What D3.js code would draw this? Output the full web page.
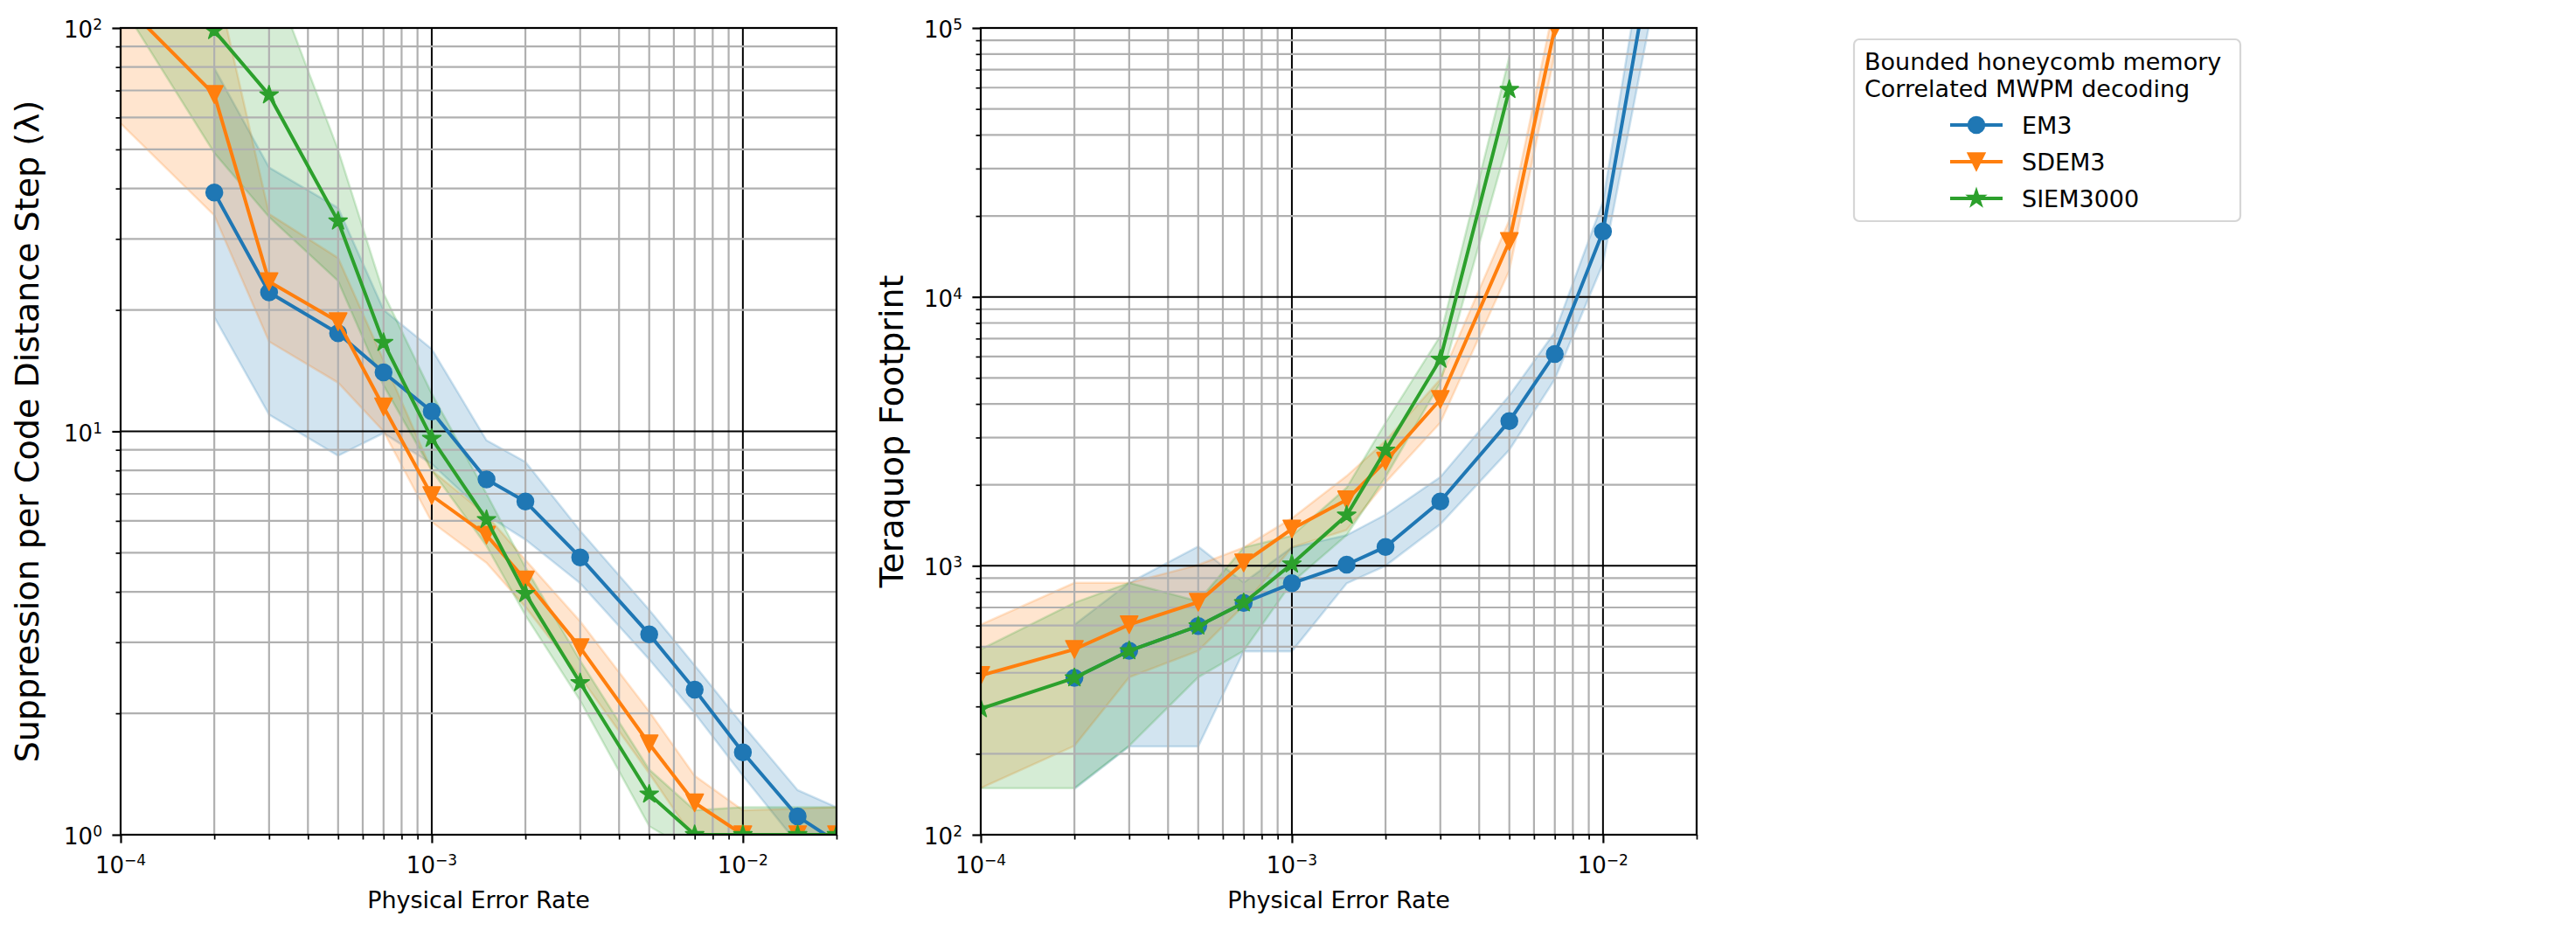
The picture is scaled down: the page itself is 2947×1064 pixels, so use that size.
<!DOCTYPE html>
<html>
<head>
<meta charset="utf-8">
<script src="https://cdnjs.cloudflare.com/ajax/libs/d3/7.8.5/d3.min.js"></script>
<style>
  body { margin: 0; background: #fff; }
  svg { display: block; font-family: "DejaVu Sans", sans-serif; }
</style>
</head>
<body>
<div id="chart"></div>
<script>
// physical error rates (x axis, both panels)
var errorRates = [1e-4, 2e-4, 3e-4, 5e-4, 7e-4, 1e-3, 1.5e-3, 2e-3, 3e-3, 5e-3, 7e-3, 1e-2, 1.5e-2, 2e-2];

var seriesNames = ["EM3", "SDEM3", "SIEM3000"];
var legendTitle = ["Bounded honeycomb memory", "Correlated MWPM decoding"];

// suppression per code distance step (lambda), with low / high band
var lambdaEM3    = [null, 39.1, 22.1, 17.5, 14.0, 11.2, 7.6, 6.7, 4.87, 3.14, 2.29, 1.60, 1.11, 0.96];
var lambdaEM3Lo  = [null, 19.2, 11.0, 8.7, 9.9, 8.3, 6.2, 5.39, 4.2, 2.72, 2.0, 1.40, 0.95, 0.8];
var lambdaEM3Hi  = [null, 79.5, 45.1, 35.8, 20.0, 16.0, 9.5, 8.4, 5.67, 3.61, 2.63, 1.87, 1.29, 1.17];

var lambdaSDEM3   = [117, 68.4, 23.5, 18.7, 11.5, 6.93, 5.53, 4.28, 2.91, 1.68, 1.20, 1.0, 1.0, 1.0];
var lambdaSDEM3Lo = [58, 34.3, 16.7, 13.2, 10.0, 5.96, 4.72, 3.67, 2.46, 1.42, 0.97, 0.9, 0.9, 0.9];
var lambdaSDEM3Hi = [250, 137, 34.6, 26.9, 15.0, 8.0, 6.2, 4.8, 3.38, 2.02, 1.40, 1.15, 1.16, 1.17];

var lambdaSIEM   = [180, 98.5, 68.2, 33.2, 16.6, 9.6, 6.04, 3.96, 2.38, 1.26, 1.0, 1.0, 1.0, 1.0];
var lambdaSIEMLo = [115, 49, 34, 23.6, 13.0, 8.0, 5.2, 3.5, 2.15, 1.05, 0.9, 0.9, 0.9, 0.9];
var lambdaSIEMHi = [350, 200, 141, 49.9, 22.0, 12.4, 7.0, 4.6, 2.7, 1.45, 1.15, 1.17, 1.17, 1.17];

// teraquop footprint, with low / high band
var footEM3    = [null, 383, 483, 597, 728, 861, 1010, 1176, 1736, 3455, 6137, 17515, 250000, 1500000];
var footEM3Lo  = [null, 148, 213, 213, 481, 481, 860, 1000, 1428, 2698, 4943, 13300, 150000, 800000];
var footEM3Hi  = [null, 604, 864, 1180, 867, 1170, 1300, 1550, 2137, 4295, 7390, 22600, 400000, 3000000];

var footSDEM3   = [391, 489, 604, 732, 1026, 1370, 1760, 2450, 4156, 16070, 100000, null, null, null];
var footSDEM3Lo = [149, 214, 385, 483, 711, 1170, 1359, 2043, 3404, 12530, 80000, null, null, null];
var footSDEM3Hi = [604, 864, 864, 1008, 1170, 1503, 2158, 2917, 4940, 19300, 125000, null, null, null];

var footSIEM   = [294, 383, 483, 597, 728, 1015, 1542, 2690, 5860, 59000, null, null, null, null];
var footSIEMLo = [149, 149, 214, 385, 483, 867, 1300, 2137, 4790, 39400, null, null, null, null];
var footSIEMHi = [489, 729, 864, 738, 1170, 1294, 1951, 3404, 7160, 78100, null, null, null, null];

var colors = ["#1f77b4", "#ff7f0e", "#2ca02c"];

// Set the dimensions of the figure and the two panels
var fullWidth = 2947, fullHeight = 1064;
var plotTop = 32, W = 819, H = 923;

var svg = d3.select("#chart")
  .append("svg")
    .attr("width", fullWidth)
    .attr("height", fullHeight);

// marker shapes (circle, down triangle, star)
function starPath(R) {
  var pts = [];
  for (var k = 0; k < 10; k++) {
    var a = Math.PI / 2 + k * Math.PI / 5;
    var rr = k % 2 ? R * 0.381966 : R;
    pts.push([rr * Math.cos(a), -rr * Math.sin(a)]);
  }
  return "M" + pts.join("L") + "Z";
}
var markerPaths = [
  "M9.5,0A9.5,9.5 0 1,1 -9.5,0A9.5,9.5 0 1,1 9.5,0Z",
  "M-10,-10L10,-10L0,10Z",
  starPath(11)
];

var panels = [
  {
    id: "lam", left: 138, yDomain: [1, 100],
    yLabel: "Suppression per Code Distance Step (\u03bb)", yLabelX: 44,
    values: [lambdaEM3, lambdaSDEM3, lambdaSIEM],
    lows: [lambdaEM3Lo, lambdaSDEM3Lo, lambdaSIEMLo],
    highs: [lambdaEM3Hi, lambdaSDEM3Hi, lambdaSIEMHi]
  },
  {
    id: "foot", left: 1122, yDomain: [100, 100000],
    yLabel: "Teraquop Footprint", yLabelX: 1033,
    values: [footEM3, footSDEM3, footSIEM],
    lows: [footEM3Lo, footSDEM3Lo, footSIEMLo],
    highs: [footEM3Hi, footSDEM3Hi, footSIEMHi]
  }
];

function isDecade(v) {
  var l = Math.log10(v);
  return Math.abs(l - Math.round(l)) < 1e-9;
}

// "10" with a superscript exponent
function powerLabel(sel) {
  sel.append("tspan").text("10");
  sel.append("tspan")
    .attr("dy", -9)
    .attr("font-size", 17)
    .text(function(d) {
      var e = Math.round(Math.log10(d));
      return e < 0 ? "\u2212" + (-e) : e;
    });
}

panels.forEach(function(p) {
  var g = svg.append("g")
    .attr("transform", "translate(" + p.left + "," + plotTop + ")");

  var x = d3.scaleLog().domain([1e-4, 2e-2]).range([0, W]);
  var y = d3.scaleLog().domain(p.yDomain).range([H, 0]);

  g.append("clipPath").attr("id", "clip-" + p.id)
    .append("rect").attr("width", W).attr("height", H);

  var plot = g.append("g").attr("clip-path", "url(#clip-" + p.id + ")");

  // Shaded uncertainty bands (drawn under the grid)
  p.values.forEach(function(vals, si) {
    var pts = errorRates.map(function(e, i) {
      return {e: e, lo: p.lows[si][i], hi: p.highs[si][i]};
    }).filter(function(d) { return d.lo != null; });
    plot.append("path")
      .datum(pts)
      .attr("d", d3.area()
        .x(function(d) { return x(d.e); })
        .y0(function(d) { return y(d.lo); })
        .y1(function(d) { return y(d.hi); }))
      .attr("fill", colors[si])
      .attr("fill-opacity", 0.2)
      .attr("stroke", colors[si])
      .attr("stroke-opacity", 0.2)
      .attr("stroke-width", 2.5);
  });

  // Grid: grey for minor, black for decades
  var xt = x.ticks(), yt = y.ticks();
  plot.append("g").selectAll("line")
    .data(xt)
    .enter()
    .append("line")
      .attr("x1", function(d) { return x(d); })
      .attr("x2", function(d) { return x(d); })
      .attr("y1", 0).attr("y2", H)
      .attr("stroke", function(d) { return isDecade(d) ? "#000" : "#b0b0b0"; })
      .attr("stroke-width", function(d) { return isDecade(d) ? 2 : 2.2; });
  plot.append("g").selectAll("line")
    .data(yt)
    .enter()
    .append("line")
      .attr("y1", function(d) { return y(d); })
      .attr("y2", function(d) { return y(d); })
      .attr("x1", 0).attr("x2", W)
      .attr("stroke", function(d) { return isDecade(d) ? "#000" : "#b0b0b0"; })
      .attr("stroke-width", function(d) { return isDecade(d) ? 2 : 2.2; });

  // Lines and markers
  p.values.forEach(function(vals, si) {
    var pts = errorRates.map(function(e, i) { return {e: e, v: vals[i]}; })
      .filter(function(d) { return d.v != null; });
    plot.append("path")
      .datum(pts)
      .attr("d", d3.line()
        .x(function(d) { return x(d.e); })
        .y(function(d) { return y(d.v); }))
      .attr("fill", "none")
      .attr("stroke", colors[si])
      .attr("stroke-width", 4);
    plot.append("g").selectAll("path")
      .data(pts)
      .enter()
      .append("path")
        .attr("transform", function(d) { return "translate(" + x(d.e) + "," + y(d.v) + ")"; })
        .attr("d", markerPaths[si])
        .attr("fill", colors[si])
        .attr("stroke", colors[si])
        .attr("stroke-width", 1.5)
        .attr("stroke-linejoin", "round");
  });

  // Frame
  g.append("rect")
    .attr("width", W).attr("height", H)
    .attr("fill", "none")
    .attr("stroke", "#000")
    .attr("stroke-width", 2.2);

  // Axes: ticks via d3 axes, labels with superscripts added after
  var xMajor = xt.filter(isDecade), xMinor = xt.filter(function(d) { return !isDecade(d); });
  var yMajor = yt.filter(isDecade), yMinor = yt.filter(function(d) { return !isDecade(d); });

  function styleAxis(a, w) {
    a.select(".domain").remove();
    a.selectAll("line").attr("stroke", "#000").attr("stroke-width", w);
  }

  g.append("g").attr("transform", "translate(0," + H + ")")
    .call(d3.axisBottom(x).tickValues(xMinor).tickSize(5.5).tickFormat(""))
    .call(styleAxis, 1.7);
  g.append("g").attr("transform", "translate(0," + H + ")")
    .call(d3.axisBottom(x).tickValues(xMajor).tickSize(9.6).tickFormat(""))
    .call(styleAxis, 2.2);
  g.append("g")
    .call(d3.axisLeft(y).tickValues(yMinor).tickSize(5.5).tickFormat(""))
    .call(styleAxis, 1.7);
  g.append("g")
    .call(d3.axisLeft(y).tickValues(yMajor).tickSize(9.6).tickFormat(""))
    .call(styleAxis, 2.2);

  g.append("g").selectAll("text")
    .data(xMajor)
    .enter()
    .append("text")
      .attr("x", function(d) { return x(d); })
      .attr("y", H + 44)
      .attr("text-anchor", "middle")
      .attr("font-size", 26)
      .each(function() { powerLabel(d3.select(this)); });

  g.append("g").selectAll("text")
    .data(yMajor)
    .enter()
    .append("text")
      .attr("x", -21)
      .attr("y", function(d) { return y(d) + 11; })
      .attr("text-anchor", "end")
      .attr("font-size", 26)
      .each(function() { powerLabel(d3.select(this)); });

  g.append("text")
    .attr("x", W / 2)
    .attr("y", H + 84)
    .attr("text-anchor", "middle")
    .attr("font-size", 27)
    .text("Physical Error Rate");

  svg.append("text")
    .attr("transform", "translate(" + p.yLabelX + "," + (plotTop + H / 2) + ") rotate(-90)")
    .attr("text-anchor", "middle")
    .attr("font-size", 38)
    .text(p.yLabel);
});

// Legend
var legend = svg.append("g").attr("transform", "translate(2121,45)");
legend.append("rect")
  .attr("width", 442).attr("height", 208)
  .attr("rx", 6)
  .attr("fill", "#fff")
  .attr("stroke", "#d6d6d6")
  .attr("stroke-width", 2.2);
legend.selectAll("text.title")
  .data(legendTitle)
  .enter()
  .append("text")
    .attr("class", "title")
    .attr("x", 12)
    .attr("y", function(d, i) { return 35 + i * 31; })
    .attr("font-size", 27)
    .text(function(d) { return d; });

var entries = legend.selectAll("g.entry")
  .data(seriesNames)
  .enter()
  .append("g")
    .attr("class", "entry")
    .attr("transform", function(d, i) { return "translate(0," + (98 + i * 42) + ")"; });
entries.append("line")
  .attr("x1", 110).attr("x2", 170)
  .attr("stroke", function(d, i) { return colors[i]; })
  .attr("stroke-width", 4);
entries.append("path")
  .attr("transform", "translate(140,0)")
  .attr("d", function(d, i) { return markerPaths[i]; })
  .attr("fill", function(d, i) { return colors[i]; })
  .attr("stroke", function(d, i) { return colors[i]; })
  .attr("stroke-width", 1.5);
entries.append("text")
  .attr("x", 192)
  .attr("y", 10)
  .attr("font-size", 27)
  .text(function(d) { return d; });
</script>
</body>
</html>
